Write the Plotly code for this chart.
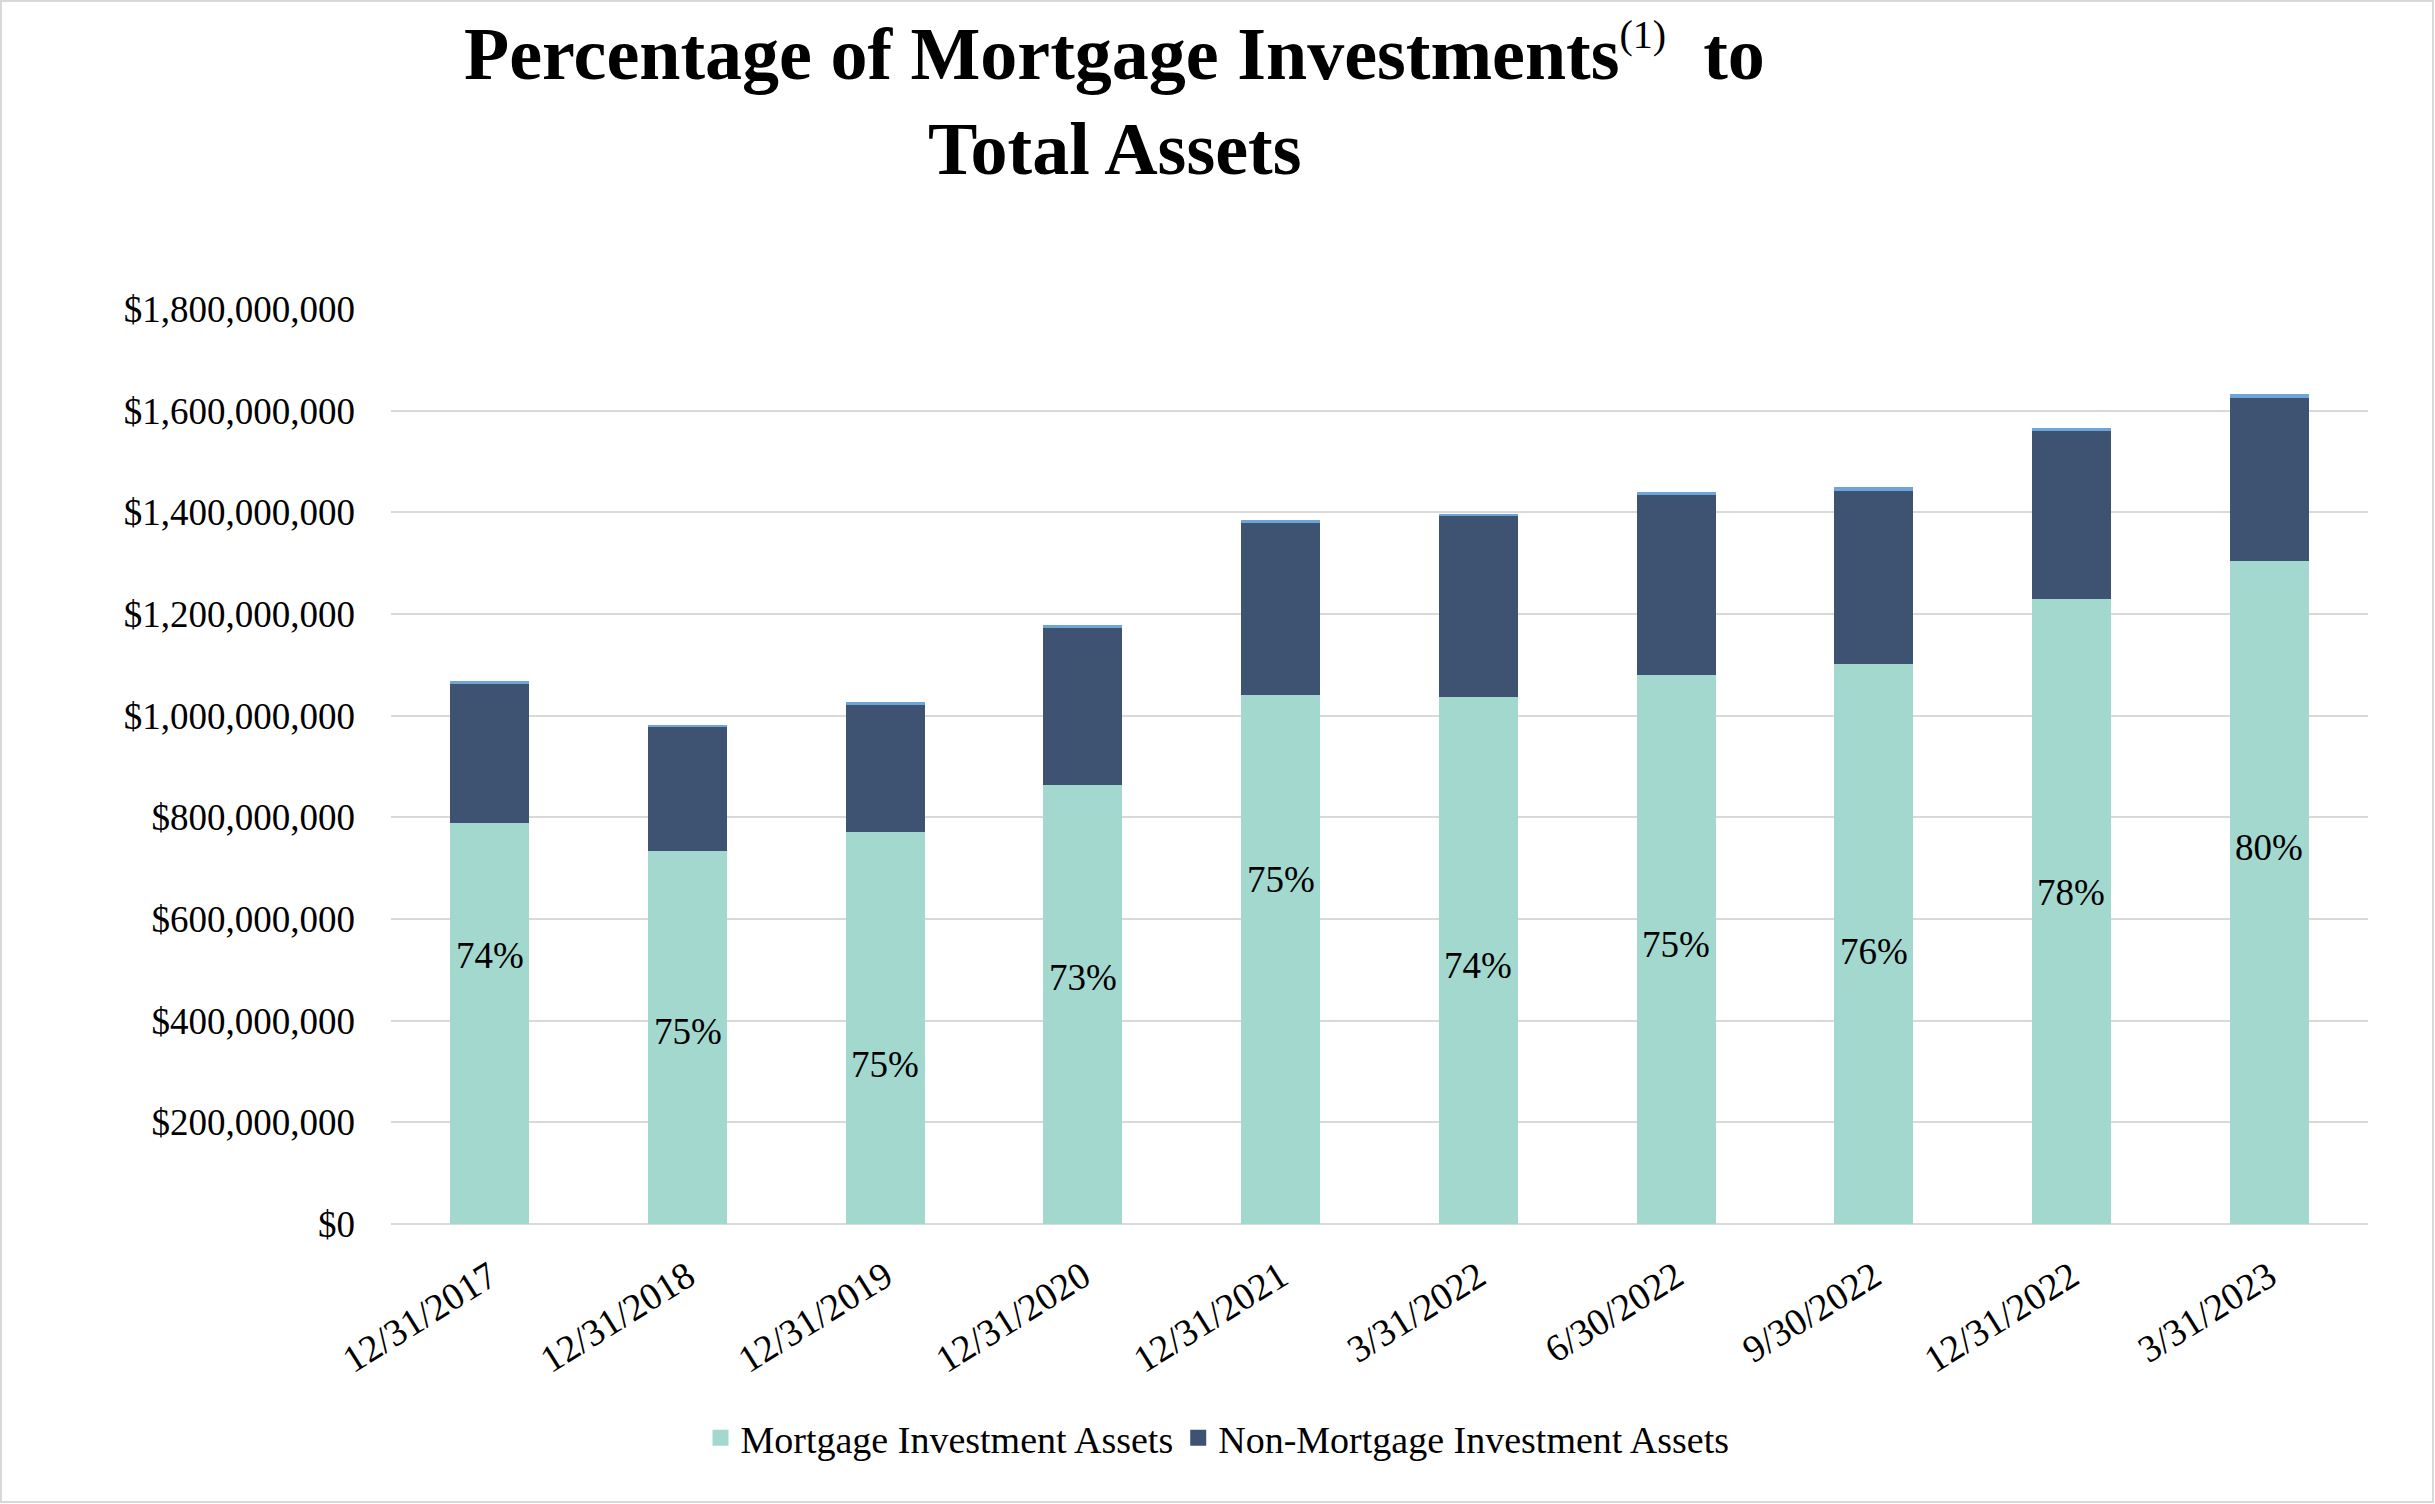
import plotly.graph_objects as go

dates = ["12/31/2017", "12/31/2018", "12/31/2019", "12/31/2020", "12/31/2021",
         "3/31/2022", "6/30/2022", "9/30/2022", "12/31/2022", "3/31/2023"]
mortgage = [788e6, 733e6, 772e6, 864e6, 1040e6, 1037e6, 1080e6, 1101e6, 1229e6, 1304e6]
non_mortgage = [275e6, 244e6, 249e6, 309e6, 340e6, 355e6, 355e6, 341e6, 331e6, 321e6]
other = [5e6, 5e6, 6e6, 5e6, 5e6, 5e6, 5e6, 8e6, 6e6, 8e6]
pct_labels = ["74%", "75%", "75%", "73%", "75%", "74%", "75%", "76%", "78%", "80%"]
label_y = [528e6, 378e6, 314e6, 485e6, 677e6, 509e6, 549e6, 537e6, 653e6, 741e6]
y_ticks = [0, 200e6, 400e6, 600e6, 800e6, 1000e6, 1200e6, 1400e6, 1600e6, 1800e6]
y_tick_text = ["$0", "$200,000,000", "$400,000,000", "$600,000,000", "$800,000,000",
               "$1,000,000,000", "$1,200,000,000", "$1,400,000,000", "$1,600,000,000",
               "$1,800,000,000"]
series_names = ["Mortgage Investment Assets", "Non-Mortgage Investment Assets"]

FONT = "Liberation Serif, Times New Roman, serif"
C_MORT, C_NON, C_OTHER = "#a3d8cf", "#3e5272", "#6ca5d8"

W, H = 2435, 1504
ML, MR, MT, MB = 391, 67, 309, 280
PW, PH = W - ML - MR, H - MT - MB


def px_x(px):
    return (px - ML) / PW


def px_y(py):
    return (H - MB - py) / PH


fig = go.Figure()
fig.add_trace(go.Bar(x=dates, y=mortgage, name=series_names[0], showlegend=False,
                     marker=dict(color=C_MORT, line=dict(width=0))))
fig.add_trace(go.Bar(x=dates, y=non_mortgage, name=series_names[1], showlegend=False,
                     marker=dict(color=C_NON, line=dict(width=0))))
fig.add_trace(go.Bar(x=dates, y=other, name="Other", showlegend=False,
                     marker=dict(color=C_OTHER, line=dict(width=0))))

# legend entries with larger square swatches
for nm, col in zip(series_names, [C_MORT, C_NON]):
    fig.add_trace(go.Scatter(x=[None], y=[None], mode="markers", name=nm,
                             marker=dict(symbol="square", size=19, color=col,
                                         line=dict(width=0))))

for d, t, yv in zip(dates, pct_labels, label_y):
    fig.add_annotation(x=d, y=yv, text=t, showarrow=False,
                       font=dict(family=FONT, size=37, color="#000000"))

fig.add_annotation(xref="paper", yref="paper", x=px_x(1114), y=px_y(53),
                   text="<b>Percentage of Mortgage Investments</b>"
                        "<sup><span style='font-size:40px'>(1)</span></sup><b>  to</b>",
                   showarrow=False, font=dict(family=FONT, size=74, color="#000000"),
                   xanchor="center", yanchor="middle")
fig.add_annotation(xref="paper", yref="paper", x=px_x(1115), y=px_y(149),
                   text="<b>Total Assets</b>",
                   showarrow=False, font=dict(family=FONT, size=74, color="#000000"),
                   xanchor="center", yanchor="middle")

# outer border
fig.add_shape(type="rect", xref="paper", yref="paper",
              x0=px_x(1), x1=px_x(W - 2), y0=px_y(H - 2), y1=px_y(1),
              line=dict(color="#d9d9d9", width=2), fillcolor="rgba(0,0,0,0)")

fig.update_layout(
    width=W, height=H,
    barmode="stack", bargap=0.6,
    paper_bgcolor="white", plot_bgcolor="white",
    margin=dict(l=ML, r=MR, t=MT, b=MB, autoexpand=False),
    font=dict(family=FONT, color="#000000"),
    showlegend=True,
    legend=dict(orientation="h", xref="container", yref="container",
                x=0.5, y=1 - 1438 / 1504, xanchor="center", yanchor="middle",
                font=dict(family=FONT, size=38, color="#000000"),
                traceorder="normal"),
    xaxis=dict(tickangle=-32, tickfont=dict(family=FONT, size=38, color="#000000"),
               showgrid=False, showline=False, ticks="", ticklabelstandoff=22),
    yaxis=dict(range=[0, 1.8e9], tickvals=y_ticks, ticktext=y_tick_text,
               tickfont=dict(family=FONT, size=37, color="#000000"),
               showgrid=True, gridcolor="#d9d9d9", gridwidth=2,
               zeroline=True, zerolinecolor="#d9d9d9", zerolinewidth=2,
               showline=False, ticks="", ticklabelstandoff=35),
)

fig.write_html("out.html", config={"displayModeBar": False},
               post_script="document.body.style.margin='0';")
